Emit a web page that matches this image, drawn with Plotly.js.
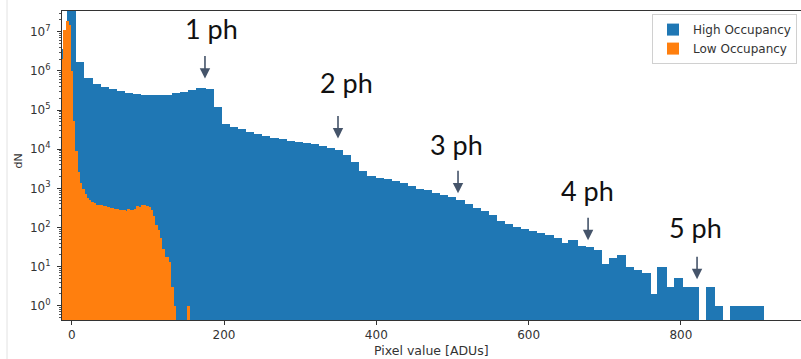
<!DOCTYPE html>
<html>
<head>
<meta charset="utf-8">
<script src="https://cdn.plot.ly/plotly-3.0.1.min.js"></script>
<style>html,body{margin:0;padding:0;background:#fff;}#chart{width:801px;height:359px;}</style>
</head>
<body>
<div id="chart"></div>
<script>
// Histogram binning (ADU)
const highBinFirstCenter = -10.62;
const highBinWidth = 10.62;
const lowBinFirstCenter = -15;
const lowBinWidth = 3;

// High Occupancy counts per bin
const highCounts = [3.7e6, 6e7, 1.72e6, 6.46e5, 4.65e5, 3.97e5, 3.47e5, 3.01e5, 2.74e5, 2.59e5,
  2.44e5, 2.44e5, 2.44e5, 2.48e5, 2.68e5, 2.96e5, 3.27e5, 3.74e5, 3.47e5, 1.23e5,
  4.53e4, 3.65e4, 3.22e4, 2.72e4, 2.38e4, 2.11e4, 1.91e4, 1.77e4, 1.64e4, 1.55e4,
  1.43e4, 1.32e4, 1.19e4, 1.09e4, 9680, 7220, 4670, 2710, 2060, 1870,
  1690, 1510, 1360, 1120, 982, 889, 777, 690, 614, 515,
  391, 309, 264, 205, 144, 126, 103, 90, 81, 72,
  65, 55, 40, 47, 33, 31, 27, 12, 17, 20,
  10, 8, 7, 2, 10, 3, 5, 3, 3, null,
  3, 1, null, 1, 1, 1, 1];

// Low Occupancy counts per bin
const lowCounts = [5e5, 2e6, 1.1e7, 1.9e7, 1.5e7, 1e6, 5.4e4, 9200, 2600, 1360,
  980, 731, 578, 494, 452, 422, 384, 380, 368, 358,
  347, 328, 322, 309, 303, 291, 283, 275, 286, 268,
  291, 283, 272, 303, 354, 340, 368, 365, 354, 328,
  275, 193, 114, 85, 55, 29, 18, 18, 13, 3,
  1, null, null, null, null, null, 1];

const seriesNames = ['High Occupancy', 'Low Occupancy'];
const seriesColors = ['#1f77b4', '#ff7f0e'];

const xTickVals = [0, 200, 400, 600, 800];
const yTickVals = [1, 10, 100, 1000, 10000, 100000, 1000000, 10000000];
const yTickText = ['10<sup>0</sup>', '10<sup>1</sup>', '10<sup>2</sup>', '10<sup>3</sup>', '10<sup>4</sup>', '10<sup>5</sup>', '10<sup>6</sup>', '10<sup>7</sup>'];

// photon peak labels
const peakLabels = ['1 ph', '2 ph', '3 ph', '4 ph', '5 ph'];
const peakLabelX = [184.2, 360.2, 504.7, 676.7, 819.8];
const peakLabelLogY = [7.08, 5.70, 4.11, 2.94, 2.005];
const peakArrowX = [175, 349.7, 507.3, 678.1, 821.2];
const peakArrowLogY = [5.803, 4.274, 2.872, 1.674, 0.680];

const highX = highCounts.map((_, i) => highBinFirstCenter + i * highBinWidth);
const lowX = lowCounts.map((_, i) => lowBinFirstCenter + i * lowBinWidth);

const traces = [
  {type: 'bar', x: highX, y: highCounts, width: highBinWidth * 1.15, name: seriesNames[0],
   marker: {color: seriesColors[0], line: {width: 0}}},
  {type: 'bar', x: lowX, y: lowCounts, width: lowBinWidth * 1.3, name: seriesNames[1],
   marker: {color: seriesColors[1], line: {width: 0}}}
];

const annotations = [];
for (let i = 0; i < peakLabels.length; i++) {
  annotations.push({x: peakLabelX[i], y: peakLabelLogY[i], xref: 'x', yref: 'y', text: peakLabels[i],
    showarrow: false, xanchor: 'center', yanchor: 'middle',
    font: {family: 'Lato, "Open Sans", sans-serif', size: 27, color: '#111'}});
  annotations.push({x: peakArrowX[i], y: peakArrowLogY[i], xref: 'x', yref: 'y', text: '',
    showarrow: true, ax: 0, ay: -24, arrowhead: 2, arrowsize: 1.3, arrowwidth: 1.6, arrowcolor: '#45546a'});
}
annotations.push({xref: 'paper', yref: 'paper', x: 0.5, y: 0, yshift: -30, text: 'Pixel value [ADUs]',
  showarrow: false, xanchor: 'center', yanchor: 'middle', font: {family: 'DejaVu Sans', size: 12.5, color: '#333'}});
annotations.push({xref: 'paper', yref: 'paper', x: 0, xshift: -44, y: 0.5, yshift: 4, text: 'dN', textangle: -90,
  showarrow: false, xanchor: 'center', yanchor: 'middle', font: {family: 'DejaVu Sans', size: 11, color: '#333'}});

const layout = {
  width: 801, height: 359,
  margin: {l: 62, r: 0, t: 11, b: 39, pad: 0},
  paper_bgcolor: '#fff', plot_bgcolor: '#fff',
  barmode: 'overlay', bargap: 0,
  showlegend: true,
  legend: {x: 0.9946, y: 0.99, xanchor: 'right', yanchor: 'top', bgcolor: '#fff',
    bordercolor: '#d0d0d0', borderwidth: 1, font: {family: 'DejaVu Sans', size: 12, color: '#333'},
    tracegroupgap: 0},
  xaxis: {range: [-12.74, 957.7], tickmode: 'array', tickvals: xTickVals, showgrid: false, zeroline: false,
    showline: true, linecolor: '#333', linewidth: 1, mirror: true, ticks: 'outside', ticklen: 4,
    tickcolor: '#333', tickfont: {family: 'DejaVu Sans', size: 12, color: '#333'}},
  yaxis: {type: 'log', range: [-0.364, 7.53], tickmode: 'array', tickvals: yTickVals, ticktext: yTickText,
    showgrid: false, zeroline: false, showline: true, linecolor: '#333', linewidth: 1,
    ticks: 'outside', ticklen: 4, tickcolor: '#333', ticklabelstandoff: 4,
    minor: {ticks: 'outside', ticklen: 2, tickcolor: '#555', dtick: 'D1', showgrid: false},
    tickfont: {family: 'DejaVu Sans', size: 12, color: '#333'}},
  annotations: annotations,
  shapes: [{type: 'line', xref: 'paper', yref: 'paper', x0: -0.0744, x1: -0.0744, y0: -0.2, y1: 1.1,
    line: {color: '#e2e2e2', width: 1}}]
};

Plotly.newPlot('chart', traces, layout, {displayModeBar: false, staticPlot: true});
</script>
</body>
</html>
